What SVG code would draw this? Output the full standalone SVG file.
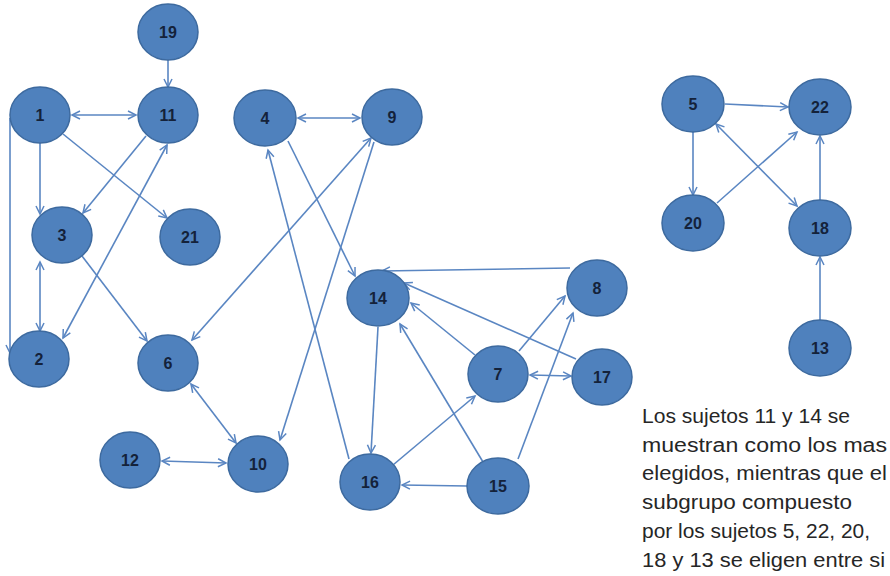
<svg xmlns="http://www.w3.org/2000/svg" width="890" height="576" viewBox="0 0 890 576">
<style>
.node ellipse{fill:#4F81BD;stroke:#3D6A9F;stroke-width:1.5}
.node text{font-family:"Liberation Sans",Arial,sans-serif;font-weight:bold;font-size:16px;fill:#14223A;text-anchor:middle}
#edges path{fill:none;stroke:#5A86C2;stroke-width:1.6}
.uni{marker-end:url(#ah)}
.bi{marker-end:url(#ah);marker-start:url(#ah)}
.note{font-family:"Liberation Sans",Arial,sans-serif;font-size:20px;fill:#262626}
</style>
<defs>
<marker id="ah" markerUnits="userSpaceOnUse" markerWidth="12" markerHeight="12" refX="9" refY="5" orient="auto-start-reverse" viewBox="0 0 12 10">
<path d="M1,1 L9,5 L1,9" fill="none" stroke="#5A86C2" stroke-width="1.5"/>
</marker>
</defs>
<rect width="890" height="576" fill="#ffffff"/>
<g id="edges">
<path class="uni" d="M168,60 L168,87"/>
<path class="bi" d="M72,115 L136,115"/>
<path class="uni" d="M40,143 L40,214"/>
<path class="uni" d="M63,134 L167,218"/>
<path class="uni" d="M146,136 L83,213"/>
<path class="bi" d="M63,338 L167,145"/>
<path class="bi" d="M40,262 L40,331"/>
<path class="uni" d="M10,118 L10,353"/>
<path class="uni" d="M82,256 L147,341"/>
<path class="bi" d="M192,340 L371,138"/>
<path class="uni" d="M374,142 L280,440"/>
<path class="bi" d="M298,118 L360,118"/>
<path class="uni" d="M288,141 L355,276"/>
<path class="uni" d="M349,459 L268,150"/>
<path class="bi" d="M191,384 L236,443"/>
<path class="bi" d="M162,461 L226,463"/>
<path class="uni" d="M570,268 L382,271"/>
<path class="uni" d="M576,359 L404,283"/>
<path class="uni" d="M475,355 L411,303"/>
<path class="uni" d="M483,462 L400,324"/>
<path class="uni" d="M378,327 L371,453"/>
<path class="uni" d="M393,465 L475,396"/>
<path class="uni" d="M467,486 L402,485"/>
<path class="uni" d="M518,459 L573,313"/>
<path class="uni" d="M519,351 L565,296"/>
<path class="bi" d="M530,375 L571,376"/>
<path class="uni" d="M725,104 L788,107"/>
<path class="uni" d="M693,132 L693,195"/>
<path class="uni" d="M717,203 L797,132"/>
<path class="bi" d="M716,124 L797,206"/>
<path class="uni" d="M820,200 L820,136"/>
<path class="uni" d="M820,320 L820,257"/>
</g>
<g id="n1" class="node"><ellipse cx="40" cy="115" rx="30" ry="28"/><text x="40" y="121">1</text></g>
<g id="n11" class="node"><ellipse cx="168" cy="115" rx="30" ry="28"/><text x="168" y="121">11</text></g>
<g id="n19" class="node"><ellipse cx="168" cy="32" rx="30" ry="28"/><text x="168" y="38">19</text></g>
<g id="n3" class="node"><ellipse cx="62" cy="235" rx="30" ry="28"/><text x="62" y="241">3</text></g>
<g id="n21" class="node"><ellipse cx="190" cy="237" rx="30" ry="28"/><text x="190" y="243">21</text></g>
<g id="n2" class="node"><ellipse cx="39" cy="359" rx="30" ry="28"/><text x="39" y="365">2</text></g>
<g id="n4" class="node"><ellipse cx="265" cy="118" rx="31" ry="28"/><text x="265" y="124">4</text></g>
<g id="n9" class="node"><ellipse cx="392" cy="117" rx="30" ry="28"/><text x="392" y="123">9</text></g>
<g id="n6" class="node"><ellipse cx="168" cy="363" rx="30" ry="28"/><text x="168" y="369">6</text></g>
<g id="n12" class="node"><ellipse cx="130" cy="460" rx="30" ry="28"/><text x="130" y="466">12</text></g>
<g id="n10" class="node"><ellipse cx="258" cy="464" rx="30" ry="28"/><text x="258" y="470">10</text></g>
<g id="n14" class="node"><ellipse cx="378" cy="298" rx="31" ry="28"/><text x="378" y="304">14</text></g>
<g id="n8" class="node"><ellipse cx="597" cy="288" rx="30" ry="28"/><text x="597" y="294">8</text></g>
<g id="n7" class="node"><ellipse cx="498" cy="374" rx="30" ry="28"/><text x="498" y="380">7</text></g>
<g id="n17" class="node"><ellipse cx="602" cy="377" rx="30" ry="28"/><text x="602" y="383">17</text></g>
<g id="n16" class="node"><ellipse cx="370" cy="482" rx="30" ry="28"/><text x="370" y="488">16</text></g>
<g id="n15" class="node"><ellipse cx="498" cy="486" rx="31" ry="28"/><text x="498" y="492">15</text></g>
<g id="n5" class="node"><ellipse cx="693" cy="104" rx="31" ry="28"/><text x="693" y="110">5</text></g>
<g id="n22" class="node"><ellipse cx="820" cy="107" rx="31" ry="28"/><text x="820" y="113">22</text></g>
<g id="n20" class="node"><ellipse cx="693" cy="223" rx="31" ry="28"/><text x="693" y="229">20</text></g>
<g id="n18" class="node"><ellipse cx="820" cy="228" rx="31" ry="28"/><text x="820" y="234">18</text></g>
<g id="n13" class="node"><ellipse cx="820" cy="348" rx="31" ry="28"/><text x="820" y="354">13</text></g>
<g id="note">
<text class="note" x="642" y="423" textLength="208" lengthAdjust="spacingAndGlyphs">Los sujetos 11 y 14 se</text>
<text class="note" x="642" y="452" textLength="245" lengthAdjust="spacingAndGlyphs">muestran como los mas</text>
<text class="note" x="642" y="480" textLength="245" lengthAdjust="spacingAndGlyphs">elegidos, mientras que el</text>
<text class="note" x="642" y="509" textLength="210" lengthAdjust="spacingAndGlyphs">subgrupo compuesto</text>
<text class="note" x="642" y="538" textLength="228" lengthAdjust="spacingAndGlyphs">por los sujetos 5, 22, 20,</text>
<text class="note" x="642" y="567" textLength="243" lengthAdjust="spacingAndGlyphs">18 y 13 se eligen entre si</text>
</g>
</svg>
